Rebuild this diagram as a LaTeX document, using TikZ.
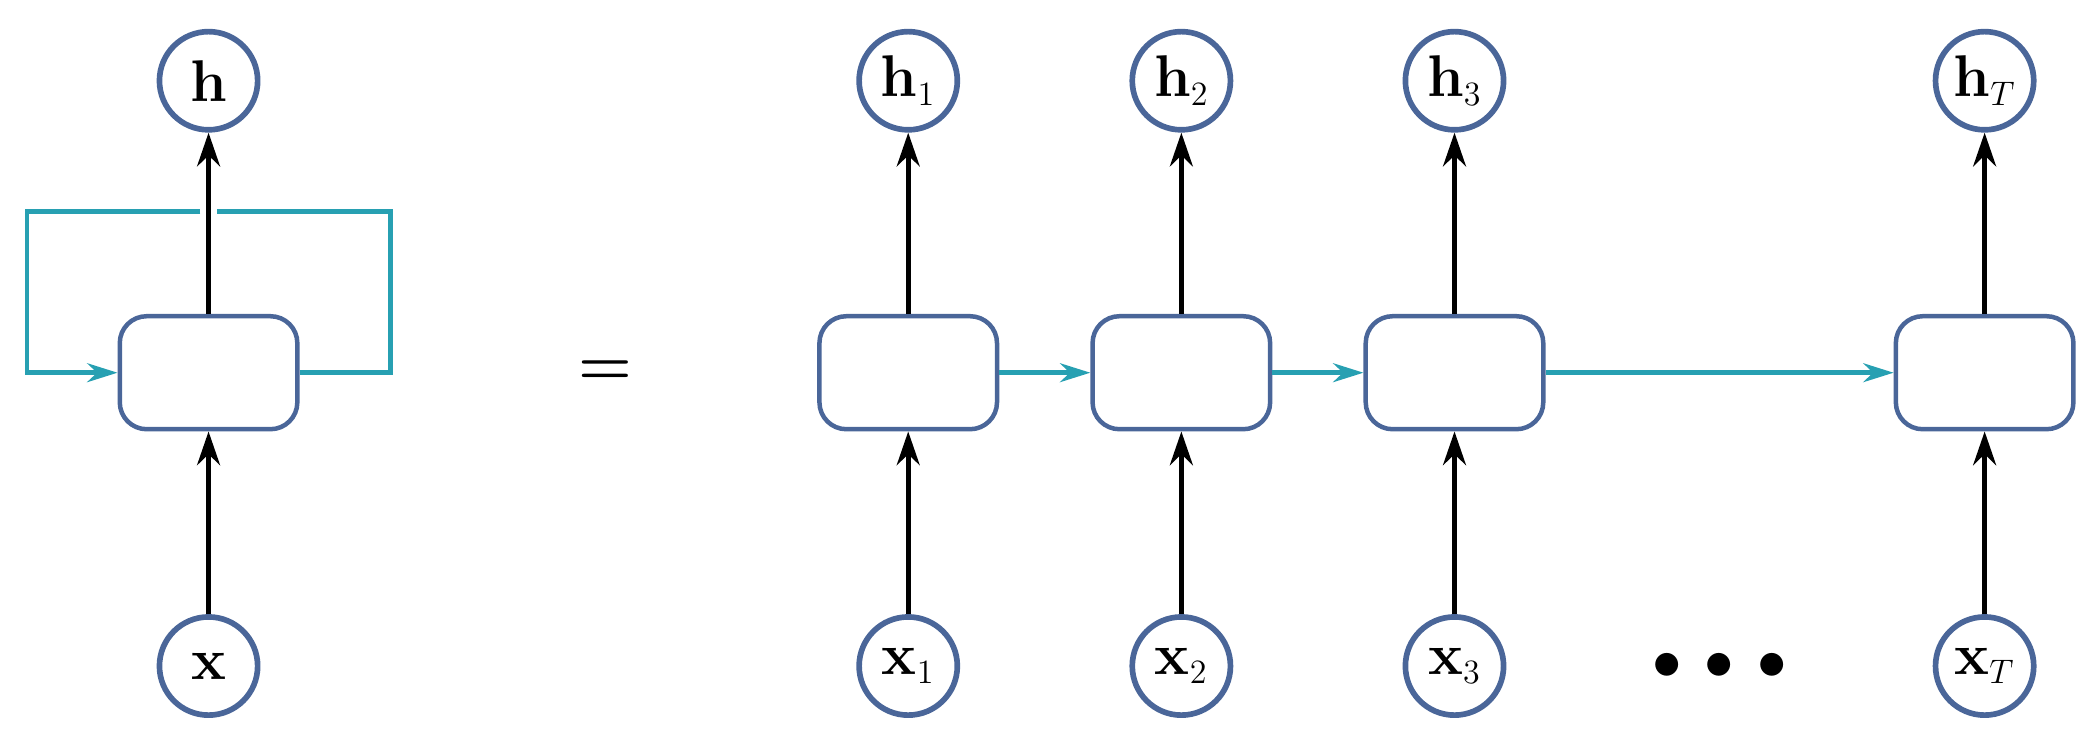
\documentclass[tikz,border=0pt]{standalone}
\usetikzlibrary{arrows.meta}
\definecolor{cblue}{HTML}{4A6699}
\definecolor{cteal}{HTML}{27A0B2}
\begin{document}
\begin{tikzpicture}[x=0.02cm,y=-0.02cm,
  circ/.style={circle,draw=cblue,line width=2.4pt,minimum size=1.46cm,inner sep=0pt,font=\fontsize{30}{34}\selectfont},
  cell/.style={draw=cblue,line width=1.9pt,rounded corners=0.4cm,minimum width=2.64cm,minimum height=1.68cm,inner sep=0pt},
  blk/.style={black,line width=2.2pt,-{Stealth[length=0.5cm,width=0.34cm]}},
  rec/.style={cteal,line width=2pt,-{Stealth[length=0.45cm,width=0.28cm]}},
  recl/.style={cteal,line width=2pt}]
\useasboundingbox (0,0) rectangle (1560,555);
% folded
\node[circ] (h) at (155,60) {$\mathbf{h}$};
\node[cell] (c) at (155,277) {};
\node[circ] (x) at (155,495) {$\mathbf{x}$};
\draw[blk] (x) -- (c);
\draw[blk] (c) -- (h);
\coordinate (r1) at (290,277);
\coordinate (r2) at (290,157);
\coordinate (r3) at (161,157);
\coordinate (l1) at (149,157);
\coordinate (l2) at (20,157);
\coordinate (l3) at (20,277);
\draw[recl] (c.east) -- (r1) -- (r2) -- (r3);
\draw[rec] (l1) -- (l2) -- (l3) -- (c.west);
\node[font=\fontsize{26}{30}\selectfont\bfseries] (eq) at (450,277) {=};
% unrolled
\foreach \i/\px/\s in {1/675/1,2/878/2,3/1081/3,4/1475/T}{
  \node[circ] (h\i) at (\px,60) {$\mathbf{h}_{\scriptscriptstyle\s}$};
  \node[cell] (c\i) at (\px,277) {};
  \node[circ] (x\i) at (\px,495) {$\mathbf{x}_{\scriptscriptstyle\s}$};
  \draw[blk] (x\i) -- (c\i);
  \draw[blk] (c\i) -- (h\i);
}
\draw[rec] (c1) -- (c2);
\draw[rec] (c2) -- (c3);
\draw[rec] (c3) -- (c4);
\node[font=\fontsize{30}{34}\selectfont] (dots) at (1278,495) {$\bullet\,\bullet\,\bullet$};
\end{tikzpicture}
\end{document}
